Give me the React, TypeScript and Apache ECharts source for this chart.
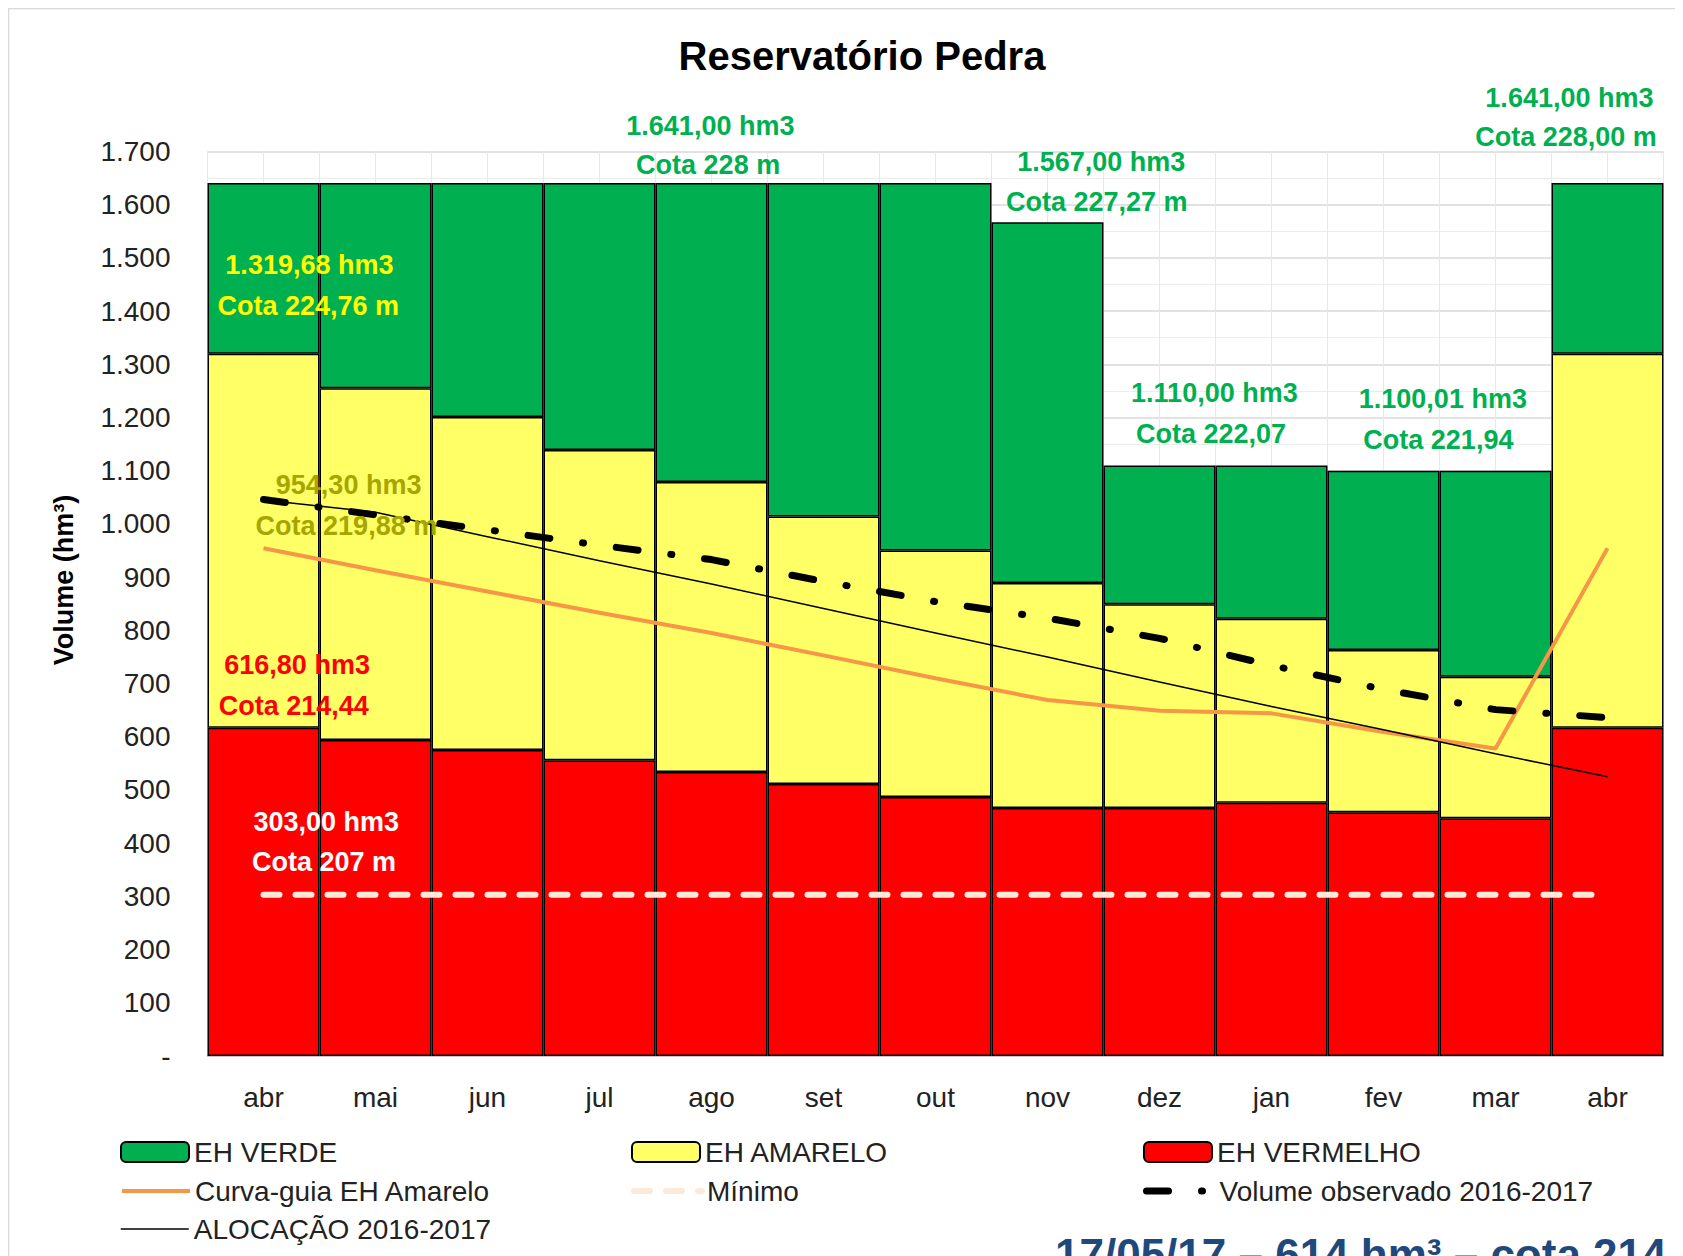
import React, { useEffect, useRef } from "react";
import * as echarts from "echarts";

const categories = ["abr", "mai", "jun", "jul", "ago", "set", "out", "nov", "dez", "jan", "fev", "mar", "abr"];
const vermelhoTop = [616.8, 594, 575, 556, 534, 511, 487, 466, 466, 476, 458, 447, 616.8];
const amareloTop = [1319.68, 1255, 1201, 1139, 1079, 1014, 950, 889, 849, 822, 763, 713, 1319.68];
const verdeTop = [1641, 1641, 1641, 1641, 1641, 1641, 1641, 1567, 1110, 1110, 1100.01, 1100.01, 1641];
const curvaGuia = [954.3, 913, 873, 833, 795, 753, 710, 669, 649, 644, 609, 578, 954.3];
const alocacao = [1045, 1022, 976, 931, 887, 841, 795, 750, 703, 657, 613, 568, 525];
const observado = [1046, 1017, 989, 960, 933, 892, 854, 823, 785, 734, 689, 651, 636];
const minimo = [303, 303, 303, 303, 303, 303, 303, 303, 303, 303, 303, 303, 303];
const yTicks = { min: 0, max: 1700, interval: 100 };

const FONT = '"Liberation Sans", Arial, sans-serif';

// annotation texts anchored in data units (x: category position 0..13 on helper axis, y: volume)
const annotations = [
  { text: "1.641,00 hm3", x: 4.49, y: 1748, color: "#00B050" },
  { text: "Cota 228 m", x: 4.47, y: 1674, color: "#00B050" },
  { text: "1.567,00 hm3", x: 7.98, y: 1680, color: "#00B050" },
  { text: "Cota 227,27 m", x: 7.94, y: 1605, color: "#00B050" },
  { text: "1.641,00 hm3", x: 12.16, y: 1800, color: "#00B050" },
  { text: "Cota 228,00 m", x: 12.13, y: 1727, color: "#00B050" },
  { text: "1.319,68 hm3", x: 0.91, y: 1486, color: "#FFFF00" },
  { text: "Cota 224,76 m", x: 0.9, y: 1409, color: "#FFFF00" },
  { text: "954,30 hm3", x: 1.26, y: 1073, color: "#A6A600" },
  { text: "Cota 219,88 m", x: 1.24, y: 996, color: "#A6A600" },
  { text: "616,80 hm3", x: 0.8, y: 735, color: "#FF0000" },
  { text: "Cota 214,44", x: 0.77, y: 658, color: "#FF0000" },
  { text: "303,00 hm3", x: 1.06, y: 440, color: "#FFFFFF" },
  { text: "Cota 207 m", x: 1.04, y: 365, color: "#FFFFFF" },
  { text: "1.110,00 hm3", x: 8.99, y: 1246, color: "#00B050" },
  { text: "Cota 222,07", x: 8.96, y: 1169, color: "#00B050" },
  { text: "1.100,01 hm3", x: 11.03, y: 1235, color: "#00B050" },
  { text: "Cota 221,94", x: 10.99, y: 1158, color: "#00B050" },
];

const fmt = (v: number) => (v === 0 ? "-" : String(v).replace(/\B(?=(\d{3})+(?!\d))/g, "."));

export default function App() {
  const ref = useRef<HTMLDivElement>(null);
  useEffect(() => {
    if (!ref.current) return;
    const chart = echarts.init(ref.current, null, { renderer: "svg" });
    const amarelo = amareloTop.map((v, i) => +(v - vermelhoTop[i]).toFixed(2));
    const verde = verdeTop.map((v, i) => +(v - amareloTop[i]).toFixed(2));
    const barBase = {
      type: "bar",
      stack: "eh",
      barCategoryGap: "0%",
      xAxisIndex: 0,
      yAxisIndex: 0,
    };
    const styles: Record<string, any> = {
      minimo: { color: "#FDE9D9", width: 6, type: [16, 16], cap: "round" },
      curva: { color: "#F79646", width: 4 },
      aloc: { color: "#000", width: 1.5 },
      obs: { color: "#000", width: 7, type: [22, 33, 1, 33], cap: "round" },
    };
    const legendText = { fontSize: 28, color: "#222", fontFamily: FONT, lineHeight: 28 };
    const mkLegend = (name: string, left: number, top: number, ls?: any) => ({
      data: [ls ? { name, lineStyle: ls, itemStyle: { opacity: 0 } } : name],
      left,
      top,
      orient: "horizontal",
      itemWidth: 68,
      itemHeight: 20,
      itemGap: 0,
      padding: 0,
      textStyle: legendText,
      selectedMode: false,
    });
    chart.setOption({
      animation: false,
      backgroundColor: "#ffffff",
      grid: { left: 199.5, top: 143.5, width: 1456, height: 904.5, containLabel: false },
      xAxis: [
        {
          type: "category",
          data: categories,
          boundaryGap: true,
          axisLine: { show: true, lineStyle: { color: "#bfbfbf", width: 1.5 } },
          axisTick: { show: false },
          axisLabel: { fontSize: 28, color: "#222", fontFamily: FONT, margin: 27 },
          splitLine: { show: false },
        },
        {
          type: "value",
          min: 0,
          max: 13,
          interval: 0.5,
          position: "top",
          axisLine: { show: false },
          axisTick: { show: false },
          axisLabel: { show: false },
          splitLine: { show: true, lineStyle: { color: "#e8e8e8", width: 1 } },
        },
      ],
      yAxis: {
        type: "value",
        min: yTicks.min,
        max: yTicks.max,
        interval: yTicks.interval,
        axisLine: { show: false },
        axisTick: { show: false },
        axisLabel: { fontSize: 28, color: "#222", fontFamily: FONT, margin: 37, formatter: fmt },
        splitLine: { show: true, lineStyle: { color: "#d9d9d9", width: 1.5 } },
        minorTick: { show: false, splitNumber: 2 },
        minorSplitLine: { show: true, lineStyle: { color: "#ececec", width: 1 } },
      },
      legend: [
        mkLegend("EH VERDE", 112, 1130),
        mkLegend("EH AMARELO", 623, 1130),
        mkLegend("EH VERMELHO", 1135, 1130),
        mkLegend("Curva-guia EH Amarelo", 112, 1169, styles.curva),
        mkLegend("Mínimo", 623, 1169, styles.minimo),
        mkLegend("Volume observado 2016-2017", 1135, 1169, styles.obs),
        mkLegend("ALOCAÇÃO 2016-2017", 112, 1207, styles.aloc),
      ],
      series: [
        {
          ...barBase,
          name: "EH VERMELHO",
          data: vermelhoTop,
          itemStyle: { color: "#FF0000", borderColor: "#000", borderWidth: 1.5 },
        },
        {
          ...barBase,
          name: "EH AMARELO",
          data: amarelo,
          itemStyle: { color: "#FFFF66", borderColor: "#000", borderWidth: 1.5 },
        },
        {
          ...barBase,
          name: "EH VERDE",
          data: verde,
          itemStyle: { color: "#00B050", borderColor: "#000", borderWidth: 1.5 },
        },
        {
          type: "line",
          name: "Mínimo",
          data: minimo,
          symbol: "none",
          z: 5,
          lineStyle: styles.minimo,
          itemStyle: { color: "#FDE9D9", opacity: 0 },
        },
        {
          type: "line",
          name: "Curva-guia EH Amarelo",
          data: curvaGuia,
          symbol: "none",
          z: 6,
          lineStyle: styles.curva,
          itemStyle: { color: "#F79646", opacity: 0 },
        },
        {
          type: "line",
          name: "ALOCAÇÃO 2016-2017",
          data: alocacao,
          symbol: "none",
          z: 7,
          lineStyle: styles.aloc,
          itemStyle: { color: "#000", opacity: 0 },
        },
        {
          type: "line",
          name: "Volume observado 2016-2017",
          data: observado,
          symbol: "none",
          z: 8,
          lineStyle: styles.obs,
          itemStyle: { color: "#000", opacity: 0 },
        },
      ],
    });

    const annot = annotations.map((a) => {
      const p = chart.convertToPixel({ xAxisIndex: 1, yAxisIndex: 0 }, [a.x, a.y]) as number[];
      return {
        type: "text",
        x: p[0],
        y: p[1],
        z: 100,
        style: {
          text: a.text,
          fill: a.color,
          fontSize: 27,
          fontWeight: "bold",
          fontFamily: FONT,
          align: "center",
          verticalAlign: "middle",
        },
      };
    });

    chart.setOption({
      graphic: [
        {
          type: "rect",
          shape: { x: 0.5, y: 0.5, width: 1800, height: 1400 },
          style: { fill: "none", stroke: "#d9d9d9", lineWidth: 1.5 },
          z: 1,
          silent: true,
        },
        {
          type: "text",
          x: 854,
          y: 48,
          z: 100,
          style: {
            text: "Reservatório Pedra",
            fill: "#000",
            fontSize: 40,
            fontWeight: "bold",
            fontFamily: FONT,
            align: "center",
            verticalAlign: "middle",
          },
        },
        {
          type: "text",
          x: 56,
          y: 572,
          rotation: Math.PI / 2,
          z: 100,
          style: {
            text: "Volume (hm³)",
            fill: "#000",
            fontSize: 27,
            fontWeight: "bold",
            fontFamily: FONT,
            align: "center",
            verticalAlign: "middle",
          },
        },
        {
          type: "text",
          x: 1047,
          y: 1224,
          z: 100,
          style: {
            text: "17/05/17 – 614 hm³ – cota 214,3",
            fill: "#1F497D",
            fontSize: 44,
            fontWeight: "bold",
            fontFamily: FONT,
            align: "left",
            verticalAlign: "top",
          },
        },
        ...annot,
      ],
    });
    return () => chart.dispose();
  }, []);
  return <div ref={ref} style={{ width: 1675, height: 1248 }} />;
}
